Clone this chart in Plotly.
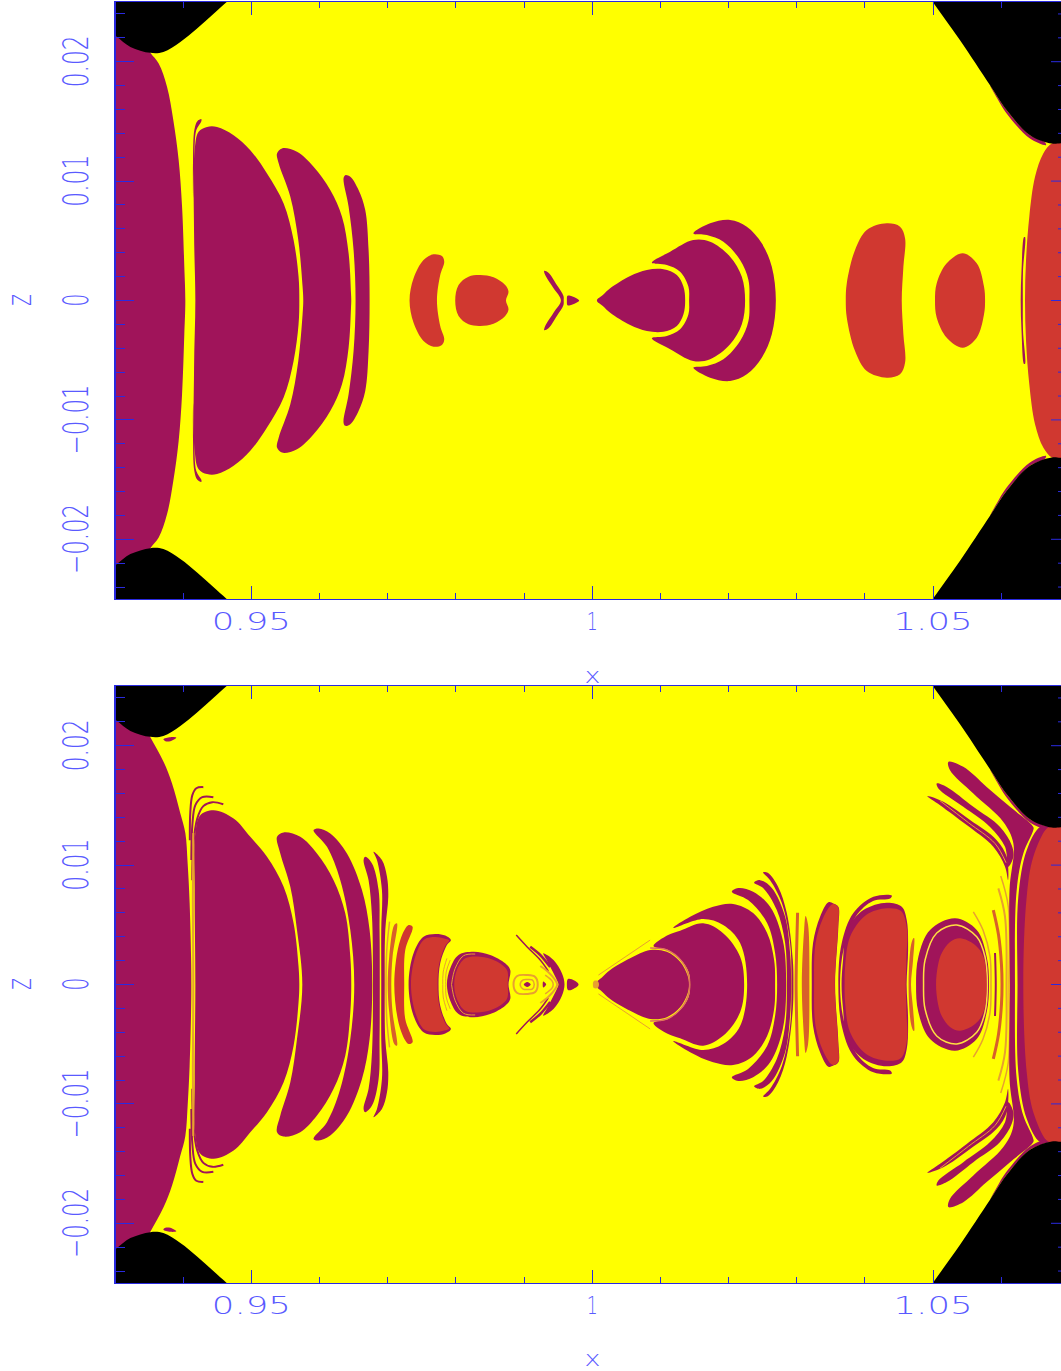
import plotly.graph_objects as go

# Region outlines, upper half (z >= 0), values in units of 1e-3; the lower half is the mirror image.
PURPLE = "#A0145A"; RED = "#D03830"; BLACK = "#000000"; ORANGE = "#E8A030"; DEEP = "#D8602A"; PINK = "#E07060"
AXIS = "#2A2AE0"; LABEL = "#5A5AFF"

BLACK_LEFT = [(925,24.3),(927.5,23.2),(930.16,22.13),(932.26,21.24),(935.19,20.74),(937.1,20.82),(939.59,21.66),(942.04,22.78),(944.43,24.0),(946.58,25.1),(950,26.9),(955,30),(925,30)]
BLACK_RIGHT = [(1046,28.2),(1049.96,25.0),(1053.96,21.8),(1058.36,18.03),(1060.81,15.94),(1064.22,13.85),(1067.41,13.15),(1068.77,13.18),(1075,13.5),(1075,30)]
EDGE_RIGHT = [(1058.36,18.03),(1060.81,15.94),(1064.22,13.85),(1066.42,13.26),(1066.57,13.01),(1064.22,13.56),(1060.71,15.72),(1059.38,16.95)]

# upper panel
A_BODY = [(925,0),(925,23),(934,22),(935.19,20.74),(936.41,19.85),(937.64,17.89),(938.56,15.10),(939.34,11.76),(939.84,7.85),(940.17,2.83),(940.32,0)]
A_SLIVER = [(942.67,15.19),(942.08,15.02),(941.64,14.27),(941.45,11.76),(941.47,8.6),(941.64,11.76),(941.93,14.27),(942.67,15.02)]
A_LOBE1 = [(941.79,0),(941.6,5.65),(941.69,12.59),(942.27,14.13),(943.50,14.54),(944.97,14.54),(947.40,13.85),(949.85,12.59),(952.30,10.64),(954.74,8.13),(956.20,5.06),(956.93,1.99),(957.04,0)]
A_LOBE2 = [(957.62,0),(957.52,1.15),(956.89,5.06),(955.72,8.69),(954.0,11.51),(953.77,12.32),(954.50,12.74),(956.70,12.45),(959.13,11.20),(961.58,9.25),(963.30,7.01),(964.27,3.95),(964.62,0.63),(964.66,0)]
A_LOBE3 = [(965.29,0),(965.0,4.23),(964.27,7.85),(963.53,10.23),(963.78,10.5),(964.52,10.36),(965.73,9.25),(966.71,7.57),(967.20,4.23),(967.35,0)]
A_RED1 = [(973.21,0),(973.80,1.86),(975.26,3.39),(976.73,3.87),(977.96,3.72),(978.30,3.25),(977.71,2.13),(977.23,0)]
A_RED2 = [(979.91,0),(980.40,1.30),(981.86,1.99),(983.58,2.13),(985.53,1.94),(987.24,1.30),(987.73,0.74),(987.35,0)]
A_WING = [(995.41,0),(994.33,1.02),(993.11,2.13),(992.96,2.49),(993.59,2.33),(994.82,1.30),(995.79,0.38),(995.82,0)]
A_TRI = [(996.29,0),(996.38,0.40),(996.77,0.40),(998.09,0)]
A_CONE1 = [(1000.69,0),(1001.6,0.48),(1002.64,1.02),(1005.57,2.05),(1008.02,2.55),(1010.45,2.61),(1012.42,2.13),(1013.39,1.15),(1013.64,0)]
A_CONE2 = [(1014.22,0),(1014.12,1.15),(1012.90,2.41),(1010.95,2.97),(1008.75,3.16),(1011.44,4.08),(1014.81,5.06),(1017.30,4.92),(1020.23,3.67),(1021.95,1.99),(1022.43,0)]
A_CONE3 = [(1023.06,0),(1022.92,1.72),(1021.70,3.39),(1019.25,4.92),(1016.82,5.48),(1014.85,5.62),(1017.30,6.46),(1020.23,6.74),(1022.68,6.18),(1024.88,4.79),(1026.35,2.83),(1026.94,0)]
A_RED3 = [(1037.20,0),(1037.35,1.44),(1038.56,4.23),(1040.28,5.90),(1043.21,6.46),(1045.16,6.18),(1045.90,5.20),(1045.65,2.83),(1045.41,0)]
A_RED4 = [(1050.29,0),(1050.54,1.44),(1052.01,3.11),(1054.36,3.95),(1056.41,3.11),(1057.48,1.15),(1057.63,0)]
A_RED_BODY = [(1063.49,0),(1063.64,3.39),(1064.12,7.01),(1064.96,10.36),(1066.17,12.32),(1067.41,13.15),(1068.8,13.3),(1075,14),(1075,0)]
A_RIGHT_SLIVER = [(1062.86,0),(1062.98,2.55),(1063.35,5.31),(1063.49,5.31),(1063.20,2.55),(1063.17,0)]

# lower panel
B_BODY = [(925,0),(925,23),(934,22),(935.19,20.71),(937.14,18.64),(938.37,16.84),(939.59,14.33),(940.32,12.68),(940.66,10.14),(940.95,6.82),(941.16,2.33),(941.20,0)]
B_SPECK = [(937.10,20.54),(938.12,20.71),(939.0,20.67),(938.12,20.38),(937.39,20.38)]
B_HOOK1 = [(942.96,16.53),(941.93,16.44),(941.35,15.86),(941.05,14.43),(940.98,12.09)]
B_HOOK2 = [(944.43,15.69),(942.81,15.69),(941.79,15.02),(941.35,13.35),(941.20,10.42)]
B_HOOK3 = [(945.89,15.10),(944.28,15.27),(942.96,14.94),(942.08,13.93),(941.49,11.67),(941.35,8.74)]
B_SEAM = [(941.49,12.68),(941.42,7.07),(941.49,0)]
B_LOBE1 = [(941.79,0),(941.69,7.91),(941.79,12.68),(942.52,14.18),(944.47,14.60),(947.40,13.91),(949.85,12.37),(952.30,10.69),(954.74,8.18),(956.20,5.12),(956.93,1.49),(957.04,0)]
B_LOBE2 = [(957.48,0),(956.70,4.56),(955.72,8.18),(954.25,10.98),(953.77,12.37),(954.74,12.74),(957.18,12.37),(959.63,10.98),(962.07,8.74),(963.78,5.96),(964.52,2.33),(964.66,0)]
B_LOBE3 = [(965.10,0),(964.52,4.56),(963.05,8.74),(961.10,11.53),(959.13,12.93),(959.87,13.07),(961.58,12.65),(964.03,10.98),(966.23,7.91),(967.35,4.56),(967.74,0)]
B_LOBE4 = [(967.84,0),(967.70,5.67),(967.20,8.74),(966.47,10.42),(966.71,10.69),(967.70,10.14),(968.67,7.91),(968.81,4.56),(968.84,0)]
B_LOBE5 = [(969.06,0),(969.06,4.56),(969.16,7.91),(968.43,10.42),(967.93,11.11),(969.16,10.42),(969.90,9.02),(970.09,7.35),(969.65,4.56),(969.57,0)]
B_ARC1 = [(970.28,5.26),(969.87,2.89),(969.76,0)]
B_BAND1 = [(970.01,0),(970.23,2.33),(970.97,4.98),(971.36,5.12),(970.72,2.33),(970.53,0)]
B_BAND2 = [(970.97,0),(971.85,3.72),(973.07,4.98),(973.65,4.84),(972.58,2.89),(972.43,0)]
B_CRES_OUT = [(973.07,0),(973.80,2.61),(975.26,4.00),(976.98,4.23),(978.45,4.10),(979.28,3.72),(978.69,3.31),(977.71,1.77),(977.46,0)]
B_CRES_IN = [(973.42,0),(974.12,2.47),(975.37,3.77),(976.98,3.97),(978.30,3.85),(979.03,3.68),(978.52,3.31),(977.57,1.77),(977.32,0)]
B_ARC2 = [(978.69,2.19),(978.15,1.05),(978.08,0)]
B_ARC3 = [(979.18,2.05),(978.59,1.05),(978.52,0)]
B_EGG_OUT = [(978.69,0),(979.18,1.36),(980.40,2.47),(982.60,2.74),(985.04,2.47),(987.24,1.77),(987.98,1.21),(987.73,0)]
B_EGG_IN = [(979.76,0),(980.16,1.21),(981.38,2.19),(983.58,2.33),(985.78,1.99),(987.49,1.21),(987.61,0)]
B_EGG_RING = [(979.37,0),(979.91,1.36),(981.13,2.41),(982.84,2.55)]
B_RING_OUT = [(988.46,0),(989.0,0.71),(990.47,0.79),(991.64,0.63),(992.01,0)]
B_RING_IN = [(989.44,0),(989.88,0.38),(990.47,0.42),(991.2,0.38),(991.50,0)]
B_RING_DOT = [(989.96,0),(990.47,0.21),(990.98,0)]
B_DOT = [(992.74,0),(992.82,0.25),(993.25,0)]
B_WING = [(995.06,0),(994.82,0.38),(994.09,1.21),(993.40,1.97),(992.82,2.61),(994.33,2.05),(995.56,0.94),(995.94,0)]
B_STREAK1 = [(988.86,4.14),(990.47,3.14),(992.38,2.05),(993.55,1.13)]
B_STREAK2 = [(990.91,3.16),(992.38,2.47),(993.84,1.46)]
B_FAN1 = [(992.38,1.55),(993.55,1.05),(994.57,0.38),(994.87,0)]
B_FAN2 = [(993.11,0.79),(994.13,0.29),(994.28,0)]
B_TRI = [(996.29,0),(996.44,0.46),(997.02,0.43),(998.0,0)]
B_TIP = [(1000.1,0),(1000.25,0.3),(1000.8,0.3),(1001.0,0)]
B_HAIR = [(1000.92,0.79),(1008.50,3.72)]
B_CONE1 = [(1000.44,0),(1001.5,0.62),(1002.64,1.21),(1005.57,2.19),(1008.50,2.89),(1010.95,2.74),(1012.90,1.91),(1013.97,0.79),(1014.22,0)]
B_CONE1_EDGE = [(1008.5,3.05),(1010.95,2.89),(1013.05,2.0),(1014.15,0.79),(1014.3,0)]
B_CONE2 = [(1014.37,0),(1014.15,1.05),(1013.05,2.05),(1011.14,2.89),(1008.99,3.22),(1011.14,4.14),(1012.9,4.50),(1016.28,5.12),(1019.25,4.28),(1021.70,2.33),(1022.29,0)]
B_CONE3 = [(1022.73,0),(1021.70,3.47),(1019.21,4.98),(1016.28,5.48),(1011.88,4.73),(1014.37,5.67),(1017.74,6.51),(1020.67,6.74),(1023.61,5.98),(1025.66,4.31),(1026.69,2.05),(1026.83,0)]
B_SHELL1 = [(1027.13,0),(1026.83,2.64),(1025.66,5.15),(1022.87,7.07),(1020.48,7.77),(1021.41,8.08),(1023.61,7.77),(1026.10,6.51),(1027.96,3.72),(1028.45,0)]
B_SHELL2 = [(1028.55,0),(1028.30,3.47),(1027.08,6.23),(1025.07,8.08),(1023.75,8.52),(1024.63,8.74),(1026.35,8.08),(1028.30,5.67),(1029.03,2.64),(1029.18,0)]
B_SHELL3 = [(1029.22,0),(1029.03,3.47),(1027.82,6.82),(1026.10,8.74),(1025.07,9.39),(1025.81,9.33),(1027.27,8.18),(1028.55,5.98),(1029.43,2.05),(1029.52,0)]
B_ARC4 = [(1030.13,6.01),(1029.99,2.89),(1029.91,0)]
B_BAND3 = [(1030.75,0),(1031.09,4.56),(1031.31,5.73),(1031.67,4.98),(1031.86,0)]
B_BEAN_OUT = [(1032.21,0),(1032.40,3.47),(1033.43,5.67),(1034.65,6.88),(1035.38,6.79),(1036.11,6.51),(1036.11,4.84),(1035.63,0)]
B_BEAN_IN = [(1032.55,0),(1032.77,3.47),(1033.87,5.56),(1035.04,6.65),(1035.38,6.74),(1036.07,6.49),(1036.07,4.84),(1035.59,0)]
B_OVAL_SHELL = [(1036.11,0),(1036.61,3.47),(1038.31,5.98),(1041.25,7.35),(1043.95,7.45),(1043.70,7.20),(1041.20,6.99),(1038.71,5.73),(1036.95,3.14),(1036.36,0)]
B_OVAL_OUT = [(1036.58,0),(1036.80,2.05),(1037.39,4.56),(1039.78,6.23),(1043.21,6.85),(1045.41,6.51),(1046.14,5.40),(1046.34,2.89),(1046.12,0)]
B_OVAL_IN = [(1037.02,0),(1037.10,1.49),(1037.83,4.00),(1040.18,5.82),(1043.21,6.38),(1045.31,6.15),(1046.19,4.56),(1046.11,2.47),(1046.0,0)]
B_BAND4 = [(1046.41,0),(1046.77,3.31),(1047.11,3.87),(1047.22,3.89),(1047.07,2.05),(1046.77,0)]
B_DISC_OUT = [(1047.51,0),(1047.85,2.33),(1049.56,4.56),(1053.23,5.54),(1056.41,4.56),(1057.87,2.33),(1058.21,0)]
B_DISC_RING = [(1048.61,0),(1048.83,2.05),(1050.54,4.31),(1053.48,4.98),(1056.41,4.00),(1057.63,2.30),(1057.96,0)]
B_DISC_IN = [(1050.44,0),(1050.73,1.63),(1051.28,2.64),(1052.49,3.56),(1053.96,3.87),(1056.16,3.31),(1057.38,2.33),(1057.85,0)]
B_LINE1 = [(1055.91,6.09),(1057.33,4.56),(1058.36,2.33),(1058.5,0)]
B_LINE2 = [(1059.09,2.64),(1059.20,0)]
B_LINE3 = [(1058.84,6.23),(1059.61,4.14),(1060.04,1.63),(1060.12,0)]
B_LINE4 = [(1059.58,8.05),(1060.56,5.67),(1060.78,0)]
B_LINE5 = [(1059.93,9.08),(1061.04,6.51),(1061.15,0)]
B_COLUMN = [(1061.29,0),(1061.22,7.91),(1061.78,11.82),(1060.31,13.62),(1055.91,16.0),(1052.49,17.95),(1052.25,18.64),(1054.44,18.23),(1057.87,16.55),(1061.29,14.88),(1064.71,13.20),(1064.71,12.93),(1063.24,10.98),(1062.27,7.91),(1062.02,0)]
B_FIN2 = [(1050.54,16.84),(1052.01,16.55),(1055.91,14.88),(1059.83,13.20),(1061.54,11.67),(1061.78,10.69),(1061.04,9.86),(1060.56,11.53),(1058.36,13.20),(1054.44,14.88),(1050.78,16.42)]
B_FIN3 = [(1049.17,15.77),(1051.51,15.30),(1055.43,13.77),(1059.34,12.09),(1060.81,10.69),(1061.0,8.74),(1060.56,9.86),(1058.84,11.53),(1054.94,13.35),(1051.03,15.02)]
B_FIN3_LINE = [(1051,15.4),(1055.2,13.55),(1059.1,11.8),(1060.7,10.2)]
B_COLLAR = [(1062.39,0),(1062.51,7.35),(1063.74,11.25),(1065.69,13.20),(1067.16,13.26),(1075,13.2),(1075,0)]
B_RED_BODY = [(1063.24,0),(1063.74,7.35),(1064.71,10.69),(1066.67,13.07),(1067.45,13.22),(1075,14),(1075,0)]

X_TICKS = [0.95, 1, 1.05]
X_LABELS = ["0.95", "1", "1.05"]
X_MINOR = [0.94, 0.96, 0.97, 0.98, 0.99, 1.01, 1.02, 1.03, 1.04, 1.06]
Z_TICKS = [-0.02, -0.01, 0, 0.01, 0.02]
Z_LABELS = ["\u22120.02", "\u22120.01", "0", "0.01", "0.02"]
Z_MINOR = [-0.024, -0.022, -0.018, -0.016, -0.014, -0.012, -0.008, -0.006, -0.004, -0.002,
           0.002, 0.004, 0.006, 0.008, 0.012, 0.014, 0.016, 0.018, 0.022, 0.024]

A_LAYERS = [
    (A_BODY, PURPLE, "lobe"), (A_SLIVER, PURPLE, "pair"), (A_LOBE1, PURPLE, "lobe"), (A_LOBE2, PURPLE, "lobe"),
    (A_LOBE3, PURPLE, "lobe"), (A_RED1, RED, "lobe"), (A_RED2, RED, "lobe"), (A_WING, PURPLE, "lobe"),
    (A_TRI, PURPLE, "lobe"), (A_CONE1, PURPLE, "lobe"), (A_CONE2, PURPLE, "lobe"), (A_CONE3, PURPLE, "lobe"),
    (A_RED3, RED, "lobe"), (A_RED4, RED, "lobe"), (A_RIGHT_SLIVER, PURPLE, "lobe"), (A_RED_BODY, RED, "lobe"),
    (EDGE_RIGHT, PURPLE, "pair"), (BLACK_LEFT, BLACK, "pair"), (BLACK_RIGHT, BLACK, "pair"),
]
B_LAYERS = [
    (B_BODY, PURPLE, "lobe"), (B_SPECK, PURPLE, "pair"),
    (B_HOOK1, PURPLE, 2), (B_HOOK2, PURPLE, 2), (B_HOOK3, PURPLE, 2), (B_SEAM, ORANGE, 2),
    (B_LOBE1, PURPLE, "lobe"), (B_LOBE2, PURPLE, "lobe"), (B_LOBE3, PURPLE, "lobe"), (B_LOBE4, PURPLE, "lobe"),
    (B_LOBE5, PURPLE, "lobe"), (B_ARC1, ORANGE, 1.5), (B_BAND1, DEEP, "lobe"), (B_BAND2, RED, "lobe"),
    (B_CRES_OUT, PURPLE, "lobe"), (B_CRES_IN, RED, "lobe"), (B_ARC2, ORANGE, 1), (B_ARC3, ORANGE, 1),
    (B_EGG_OUT, PURPLE, "lobe"), (B_EGG_RING, ORANGE, 1), (B_EGG_IN, RED, "lobe"),
    (B_RING_OUT, ORANGE, 2), (B_RING_IN, ORANGE, 1.5), (B_RING_DOT, PURPLE, "lobe"), (B_DOT, PURPLE, "lobe"),
    (B_STREAK1, PURPLE, 1.5), (B_STREAK2, PURPLE, 2.5), (B_WING, PURPLE, "lobe"),
    (B_FAN1, ORANGE, 2), (B_FAN2, ORANGE, 1.5), (B_TRI, PURPLE, "lobe"),
    (B_HAIR, ORANGE, 1), (B_CONE1, PURPLE, "lobe"), (B_TIP, ORANGE, "lobe"), (B_CONE2, PURPLE, "lobe"), (B_CONE1_EDGE, PINK, 1.5),
    (B_CONE3, PURPLE, "lobe"), (B_SHELL1, PURPLE, "lobe"), (B_SHELL2, PURPLE, "lobe"), (B_SHELL3, PURPLE, "lobe"),
    (B_ARC4, DEEP, 3), (B_BAND3, DEEP, "lobe"), (B_BEAN_OUT, PURPLE, "lobe"), (B_BEAN_IN, RED, "lobe"),
    (B_OVAL_SHELL, PURPLE, "lobe"), (B_OVAL_OUT, PURPLE, "lobe"), (B_OVAL_IN, RED, "lobe"), (B_BAND4, DEEP, "lobe"),
    (B_DISC_OUT, PURPLE, "lobe"), (B_DISC_RING, "#FFE040", 1.5), (B_DISC_IN, RED, "lobe"),
    (B_LINE1, ORANGE, 1.5), (B_LINE2, PURPLE, 2), (B_LINE3, DEEP, 3), (B_LINE4, ORANGE, 2), (B_LINE5, ORANGE, 1.5),
    (B_COLUMN, PURPLE, "lobe"), (B_FIN2, PURPLE, "pair"), (B_FIN3, PURPLE, "pair"), (B_FIN3_LINE, ORANGE, 1),
    (B_COLLAR, PURPLE, "lobe"), (B_RED_BODY, RED, "lobe"),
    (EDGE_RIGHT, PURPLE, "pair"), (BLACK_LEFT, BLACK, "pair"), (BLACK_RIGHT, BLACK, "pair"),
]

def mirrored(points, kind):
    xs = [p[0] / 1000 for p in points]
    zs = [p[1] / 1000 for p in points]
    if kind == "lobe":
        inner_x = xs[-2:0:-1]; inner_z = [-v for v in zs[-2:0:-1]]
        return xs + inner_x + xs[:1], zs + inner_z + zs[:1]
    if kind == "pair":
        return xs + xs[:1] + [None] + xs + xs[:1], zs + zs[:1] + [None] + [-v for v in zs] + [-zs[0]]
    if zs[-1] == 0:   # open curve crossing the mid-plane
        return xs + xs[-2::-1], zs + [-v for v in zs[-2::-1]]
    return xs + [None] + xs, zs + [None] + [-v for v in zs]

fig = go.Figure()
for layers, xa, ya in ((A_LAYERS, "x", "y"), (B_LAYERS, "x2", "y2")):
    for points, color, kind in layers:
        xs, zs = mirrored(points, kind)
        if isinstance(kind, str):
            fig.add_trace(go.Scatter(x=xs, y=zs, mode="lines", fill="toself", fillcolor=color,
                                     line=dict(color=color, width=0, shape="spline", smoothing=1.0),
                                     xaxis=xa, yaxis=ya, hoverinfo="skip", showlegend=False))
        else:
            fig.add_trace(go.Scatter(x=xs, y=zs, mode="lines",
                                     line=dict(color=color, width=kind, shape="spline", smoothing=1.0),
                                     xaxis=xa, yaxis=ya, hoverinfo="skip", showlegend=False))

W, H = 1061, 1371
x_axis = dict(range=[0.93015, 1.06877], domain=[116 / W, 1], showgrid=False, zeroline=False,
              showline=True, linecolor=AXIS, linewidth=1, mirror="ticks", layer="above traces",
              tickmode="array", tickvals=X_TICKS, ticktext=X_LABELS, ticks="inside", ticklen=13,
              tickcolor=AXIS, tickwidth=1, ticklabelstandoff=1,
              tickfont=dict(family="DejaVu Sans", size=24, color=LABEL, weight=200),
              minor=dict(tickmode="array", tickvals=X_MINOR, ticks="inside", ticklen=6, tickcolor=AXIS, tickwidth=1, showgrid=False))
z_axis = dict(range=[-0.025, 0.025], showgrid=False, zeroline=False,
              showline=True, linecolor=AXIS, linewidth=1.5, layer="above traces",
              tickmode="array", tickvals=Z_TICKS, ticktext=Z_LABELS, ticks="inside", ticklen=18,
              tickcolor=AXIS, tickwidth=1, tickangle=-90, ticklabelstandoff=12,
              tickfont=dict(family="DejaVu Sans", size=36, color=LABEL, weight=200),
              minor=dict(tickmode="array", tickvals=Z_MINOR, ticks="inside", ticklen=9, tickcolor=AXIS, tickwidth=1, showgrid=False))

# tick marks of the right frame edge, whose axis line falls just past the page
shapes = []
for ya in ("y", "y2"):
    for vals, length in ((Z_TICKS, 10), (Z_MINOR, 3)):
        for v in vals:
            shapes.append(dict(type="line", xref="paper", yref=ya, x0=1 - length / W, x1=1, y0=v, y1=v,
                               line=dict(color=AXIS, width=1), layer="above"))

title_font_x = dict(family="DejaVu Sans", size=22, color=LABEL, weight=200)
title_font_z = dict(family="DejaVu Sans", size=34, color=LABEL, weight=200)
annotations = []
for xa, py_x, py_z in (("x", 675, 300), ("x2", 1358, 984)):
    annotations.append(dict(text="x", xref=xa, x=1, yref="paper", y=1 - py_x / H, xanchor="center", yanchor="middle",
                            showarrow=False, font=title_font_x))
    annotations.append(dict(text="z", xref="paper", x=19 / W, yref="paper", y=1 - py_z / H, xanchor="center", yanchor="middle",
                            textangle=-90, showarrow=False, font=title_font_z))

fig.update_layout(width=W, height=H, margin=dict(l=0, r=0, t=0, b=0), autosize=False,
                  paper_bgcolor="white", plot_bgcolor="#FFFF00", showlegend=False,
                  xaxis=dict(x_axis, anchor="y"), yaxis=dict(z_axis, domain=[1 - 599 / H, 1 - 2 / H], anchor="x"),
                  xaxis2=dict(x_axis, anchor="y2"), yaxis2=dict(z_axis, domain=[1 - 1283 / H, 1 - 686 / H], anchor="x2"),
                  shapes=shapes, annotations=annotations)
# The reference's stroke font has stretched glyphs: fit each label to its measured length, keeping it real text.
fig.write_html("out.html", config=dict(displayModeBar=False),
               post_script="""
document.body.style.margin='0';
function fit(t, len){ t.setAttribute('textLength', len); t.setAttribute('lengthAdjust','spacingAndGlyphs'); }
document.querySelectorAll('.xtick text, .x2tick text').forEach(function(t){
  var s = t.textContent; fit(t, s.length > 1 ? 79 : 11);
});
document.querySelectorAll('.ytick text, .y2tick text').forEach(function(t){
  var s = t.textContent; fit(t, s.length > 4 ? 70 : (s.length > 1 ? 52 : 13)); t.setAttribute('dx','-5');
});
document.querySelectorAll('.annotation-text').forEach(function(t){
  fit(t, t.textContent === 'x' ? 16 : 12);
});
""")
